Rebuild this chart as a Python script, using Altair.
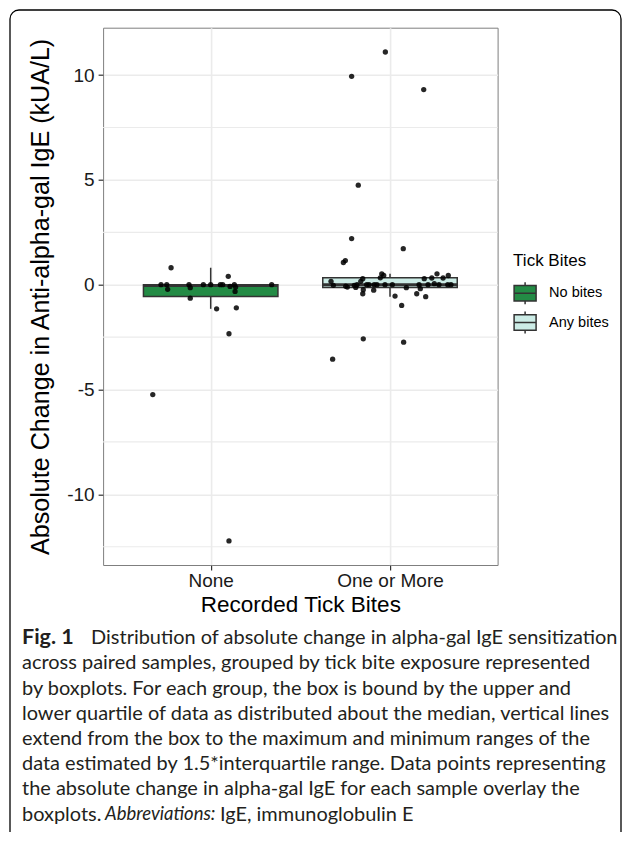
import altair as alt
import pandas as pd

# ---------------- data ----------------
groups = ["No bites", "Any bites"]
group_pos = [1, 2]
x_labels = ["None", "One or More"]
box_colors = ["#238B45", "#CCECE6"]

# jittered x position (in category units) and value for each sample
none_x = [0.779, 0.723, 0.755, 0.760, 0.879, 0.886, 0.886, 0.959, 1.000, 1.033, 1.054,
          1.067, 1.098, 1.108, 1.132, 1.139, 1.136, 1.143, 1.340, 0.677, 1.102, 1.102]
none_v = [0.81, 0.00, 0.00, -0.22, 0.00, -0.14, -0.64, 0.00, 0.00, -1.15, 0.00,
          0.00, 0.40, -0.08, 0.00, -0.11, -0.32, -1.10, 0.00, -5.24, -12.22, -2.34]

any_x = [1.974, 1.786, 2.188, 1.823, 1.786, 2.074, 1.751, 1.740, 1.954, 2.262, 1.965,
         2.325, 1.946, 2.233, 2.296, 1.848, 2.191, 1.671, 1.837, 2.247, 1.684, 1.801,
         1.870, 1.883, 1.912, 1.927, 2.013, 2.162, 2.273, 2.322, 2.340, 1.753, 1.762,
         1.809, 2.091, 2.169, 1.851, 1.909, 1.848, 2.149, 2.028, 2.199, 2.065, 1.851,
         2.076, 1.680, 1.816, 1.972, 2.212]
any_v = [11.10, 9.94, 9.31, 4.75, 2.20, 1.72, 1.15, 1.06, 0.52, 0.52, 0.44,
         0.44, 0.33, 0.32, 0.32, 0.29, 0.29, 0.16, 0.16, 0.05, -0.03, -0.03,
         0.00, 0.00, 0.00, 0.00, 0.00, 0.00, 0.00, 0.00, 0.00, -0.07, -0.11,
         -0.13, -0.14, -0.19, -0.24, -0.26, -0.43, -0.43, -0.54, -0.57, -0.99, -2.58,
         -2.74, -3.55, 0.00, 0.00, 0.00]

y_major = [-10, -5, 0, 5, 10]
y_minor = [-12.5, -7.5, -2.5, 2.5, 7.5]
y_domain = [-13.37, 12.26]
x_domain = [0.4, 2.6]

y_title = "Absolute Change in Anti-alpha-gal IgE (kUA/L)"
x_title = "Recorded Tick Bites"
legend_title = "Tick Bites"

cap_fig = "Fig. 1"
cap_line1 = "Distribution of absolute change in alpha-gal IgE sensitization"
cap_body = [
    "across paired samples, grouped by tick bite exposure represented",
    "by boxplots. For each group, the box is bound by the upper and",
    "lower quartile of data as distributed about the median, vertical lines",
    "extend from the box to the maximum and minimum ranges of the",
    "data estimated by 1.5*interquartile range. Data points representing",
    "the absolute change in alpha-gal IgE for each sample overlay the",
]
cap_last_a = "boxplots."
cap_last_b = "Abbreviations:"
cap_last_c = "IgE, immunoglobulin E"

# ---------------- tables ----------------
pts = pd.DataFrame({
    "grp": [groups[0]] * len(none_v) + [groups[1]] * len(any_v),
    "pos": [group_pos[0]] * len(none_v) + [group_pos[1]] * len(any_v),
    "xj": none_x + any_x,
    "v": none_v + any_v,
})
minor_df = pd.DataFrame({"m": y_minor})
one = pd.DataFrame({"k": [0]})

FONT = "Liberation Sans"
CAP_FONT = "Lato"
CAP_SIZE = 19.95
CAP_LH = 25.2

xscale = alt.Scale(domain=x_domain, nice=False, zero=False)
yscale = alt.Scale(domain=y_domain, nice=False, zero=False)

label_expr = "datum.value == 1 ? '%s' : '%s'" % (x_labels[0], x_labels[1])
xaxis = alt.Axis(values=group_pos, labelExpr=label_expr, title=x_title, grid=True,
                 gridColor="#EBEBEB", gridWidth=1.6, domain=False, ticks=True,
                 tickColor="#333333", tickSize=5, tickWidth=1.2, labelFont=FONT,
                 labelFontSize=19, labelColor="#1A1A1A", labelPadding=1,
                 titleFont=FONT, titleFontSize=22.5, titleFontWeight="normal",
                 titleColor="#000000", titlePadding=3)
yaxis = alt.Axis(values=y_major, labelExpr="'' + datum.value", title=y_title,
                 grid=True, gridColor="#EBEBEB",
                 gridWidth=1.6, domain=False, ticks=True, tickColor="#333333",
                 tickSize=5, tickWidth=1.2, labelFont=FONT, labelFontSize=19,
                 labelColor="#1A1A1A", labelPadding=4, titleFont=FONT,
                 titleFontSize=25.1, titleFontWeight="normal", titleColor="#000000",
                 titlePadding=13)

legend_symbol = "M-1,-0.7L1,-0.7L1,0.7L-1,0.7Z M-1,0L1,0 M0,-0.7L0,-1 M0,0.7L0,1"

# ---------------- layers ----------------
minor = alt.Chart(minor_df).mark_rule(color="#EBEBEB", strokeWidth=1.2).encode(
    y=alt.Y("m:Q", scale=yscale, axis=yaxis)
)

stats = (
    alt.Chart(pts)
    .transform_joinaggregate(q1="q1(v)", q3="q3(v)", med="median(v)", groupby=["grp"])
    .transform_calculate(lo="datum.q1 - 1.5*(datum.q3 - datum.q1)",
                         hi="datum.q3 + 1.5*(datum.q3 - datum.q1)")
    .transform_filter("datum.v >= datum.lo && datum.v <= datum.hi")
    .transform_aggregate(wlo="min(v)", whi="max(v)", q1="max(q1)", q3="max(q3)",
                         med="max(med)", pos="max(pos)", groupby=["grp"])
    .transform_calculate(xl="datum.pos - 0.375", xr="datum.pos + 0.375")
)

wlow = stats.mark_rule(color="#333333", strokeWidth=1.5).encode(
    x=alt.X("pos:Q", scale=xscale, axis=xaxis),
    y=alt.Y("wlo:Q", scale=yscale, axis=yaxis), y2="q1:Q")
whigh = stats.mark_rule(color="#333333", strokeWidth=1.5).encode(
    x=alt.X("pos:Q", scale=xscale, axis=xaxis),
    y=alt.Y("q3:Q", scale=yscale, axis=yaxis), y2="whi:Q")
box = stats.mark_bar(stroke="#333333", strokeWidth=1.5, opacity=1).encode(
    x=alt.X("xl:Q", scale=xscale, axis=xaxis), x2="xr:Q",
    y=alt.Y("q1:Q", scale=yscale, axis=yaxis), y2="q3:Q",
    fill=alt.Fill("grp:N", scale=alt.Scale(domain=groups, range=box_colors),
                  legend=alt.Legend(title=legend_title, orient="none", legendX=410,
                                    legendY=225, symbolType=legend_symbol,
                                    symbolSize=484, symbolStrokeColor="#333333",
                                    symbolStrokeWidth=1.5, labelFont=FONT,
                                    labelFontSize=14.5, labelColor="#000000",
                                    titleFont=FONT, titleFontSize=17,
                                    titleFontWeight="normal", titleColor="#000000",
                                    titlePadding=11.5, rowPadding=1.3, labelOffset=12,
                                    padding=0)),
)
median = stats.mark_rule(color="#333333", strokeWidth=3).encode(
    x=alt.X("xl:Q", scale=xscale, axis=xaxis), x2="xr:Q",
    y=alt.Y("med:Q", scale=yscale, axis=yaxis))

points = alt.Chart(pts).mark_circle(size=28, color="#000000", opacity=0.85).encode(
    x=alt.X("xj:Q", scale=xscale, axis=xaxis),
    y=alt.Y("v:Q", scale=yscale, axis=yaxis))

frame = alt.Chart(one).mark_rect(fillOpacity=0, stroke="#000000", strokeWidth=1.3,
                                 cornerRadius=9).encode(
    x=alt.value(-93.1), x2=alt.value(517.9), y=alt.value(-17.7), y2=alt.value(850))


def cap(text, x, y, **kw):
    return alt.Chart(one).mark_text(text=text, align="left", baseline="top",
                                    font=CAP_FONT, fontSize=kw.pop("fs", CAP_SIZE),
                                    lineHeight=CAP_LH, color="#231F20", **kw).encode(
        x=alt.value(x), y=alt.value(y))


y1 = 600.5
captions = [
    cap(cap_fig, -81.1, y1 - 1, fontWeight="bold", fs=21.5),
    cap(cap_line1, -12, y1),
    cap(cap_body, -81.1, y1 + CAP_LH),
    cap(cap_last_a, -81.1, y1 + 7 * CAP_LH),
    cap(cap_last_b, -81.1 + 83, y1 + 7 * CAP_LH, fontStyle="italic", fs=18.5),
    cap(cap_last_c, -81.1 + 198, y1 + 7 * CAP_LH),
]

chart = alt.layer(minor, wlow, whigh, box, median, points, frame, *captions).properties(
    width=394.5, height=537.3,
    autosize=alt.AutoSizeParams(type="none"),
    padding={"left": 95.1, "top": 19.7, "right": 124.4, "bottom": 267},
).configure_view(stroke="#7F7F7F", strokeWidth=1)

chart.save("out.html", embed_options={"renderer": "svg", "actions": False})
